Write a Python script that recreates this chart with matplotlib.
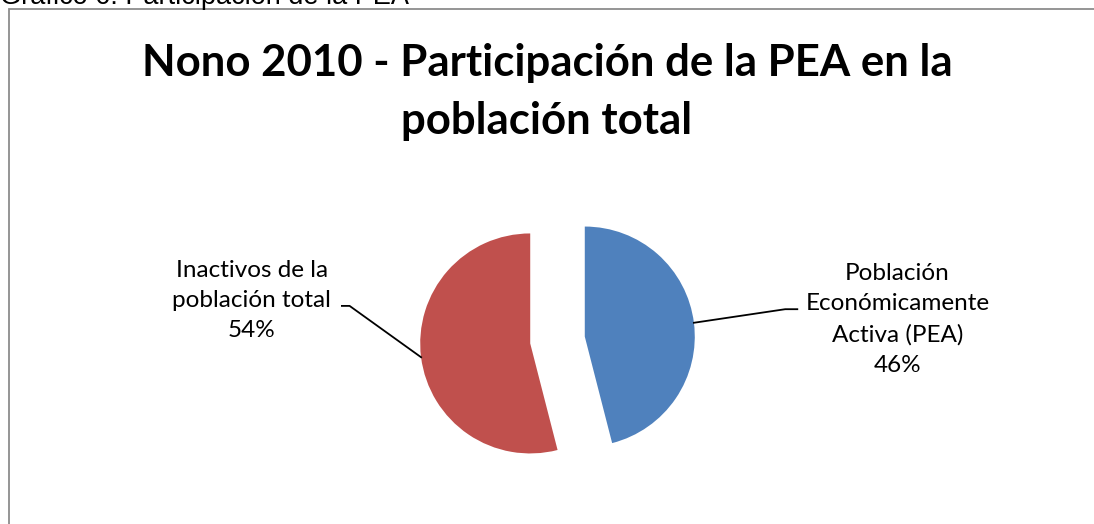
import numpy as np
import matplotlib.pyplot as plt
from matplotlib.patches import Rectangle

# data
labels = ['Población\nEconómicamente\nActiva (PEA)', 'Inactivos de la\npoblación total']
shares = [46, 54]
colors = ['#4F81BD', '#C0504D']
title = 'Nono 2010 - Participación de la PEA en la\npoblación total'
caption = 'Gráfico 6: Participación de la PEA'

W, H = 1094, 524
R = 110.0  # pie radius in px
cx, cy = 557.5, 340.0  # pie centre in px from top-left

fig = plt.figure(figsize=(W / 100, H / 100), dpi=100)
ax = fig.add_axes([0, 0, 1, 1])

wedges, _ = ax.pie(shares, colors=colors, startangle=90, counterclock=False,
                   explode=[0.25, 0.25], radius=1.0,
                   wedgeprops=dict(linewidth=0))

ax.set_xlim(-cx / R, (W - cx) / R)
ax.set_ylim(-(H - cy) / R, cy / R)
ax.set_aspect('equal')
ax.axis('off')

# frame of the chart area (only left and top edges are visible)
fig.patches.append(Rectangle((8.5 / W, -0.2), 1.2, 1 - 9 / H + 0.2,
                             transform=fig.transFigure, fill=False,
                             edgecolor='#8c8c8c', linewidth=1.3))

fig.text(0.5 / W, 1 - 4 / H, caption, fontsize=19.5, family='Liberation Sans',
         ha='left', va='baseline')

fig.text(0.5, 1 - 92 / H, title, ha='center', va='center', fontsize=31.5,
         fontweight='bold', family='Lato', linespacing=1.55)

# label positions (text centre, leader bend, leader end) in pie units
label_pos = [((3.09, 0.19), (2.07, 0.28), (2.18, 0.28)),
             ((-2.78, 0.36), (-1.89, 0.31), (-1.96, 0.31))]
for w, lab, val, (txt, bend, end) in zip(wedges, labels, shares, label_pos):
    ang = np.deg2rad((w.theta1 + w.theta2) / 2)
    x0 = w.center[0] + np.cos(ang)
    y0 = w.center[1] + np.sin(ang)
    ax.plot([x0, bend[0], end[0]], [y0, bend[1], end[1]], color='black', lw=1.3)
    ax.text(txt[0], txt[1], f'{lab}\n{val}%', ha='center', va='center',
            fontsize=17.5, family='Lato', linespacing=1.55)

fig.savefig('out.png', dpi=100)
